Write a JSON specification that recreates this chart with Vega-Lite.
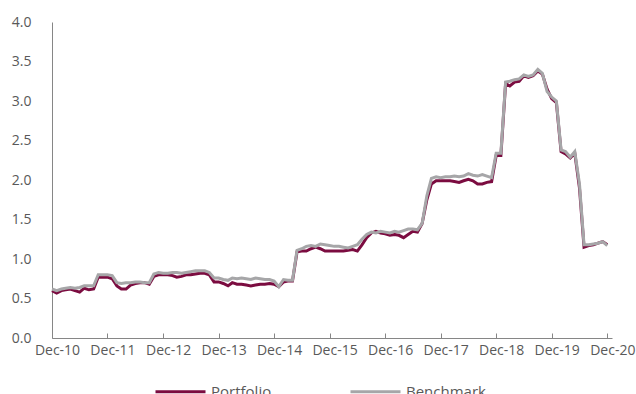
{
  "$schema": "https://vega.github.io/schema/vega-lite/v6.json",
  "width": 560,
  "height": 316,
  "autosize": {"type": "none"},
  "padding": {"left": 52, "top": 22, "right": 24, "bottom": 56},
  "background": "white",
  "config": {
    "view": {"stroke": null},
    "font": "Open Sans"
  },
  "data": {
    "values": [
      {"date": "2010-12-01", "Portfolio": 0.60, "Benchmark": 0.62},
      {"date": "2011-01-01", "Portfolio": 0.57, "Benchmark": 0.60},
      {"date": "2011-02-01", "Portfolio": 0.60, "Benchmark": 0.62},
      {"date": "2011-03-01", "Portfolio": 0.61, "Benchmark": 0.63},
      {"date": "2011-04-01", "Portfolio": 0.62, "Benchmark": 0.64},
      {"date": "2011-05-01", "Portfolio": 0.60, "Benchmark": 0.63},
      {"date": "2011-06-01", "Portfolio": 0.58, "Benchmark": 0.64},
      {"date": "2011-07-01", "Portfolio": 0.63, "Benchmark": 0.66},
      {"date": "2011-08-01", "Portfolio": 0.61, "Benchmark": 0.66},
      {"date": "2011-09-01", "Portfolio": 0.62, "Benchmark": 0.66},
      {"date": "2011-10-01", "Portfolio": 0.77, "Benchmark": 0.80},
      {"date": "2011-11-01", "Portfolio": 0.77, "Benchmark": 0.80},
      {"date": "2011-12-01", "Portfolio": 0.77, "Benchmark": 0.80},
      {"date": "2012-01-01", "Portfolio": 0.75, "Benchmark": 0.79},
      {"date": "2012-02-01", "Portfolio": 0.66, "Benchmark": 0.70},
      {"date": "2012-03-01", "Portfolio": 0.62, "Benchmark": 0.69},
      {"date": "2012-04-01", "Portfolio": 0.62, "Benchmark": 0.70},
      {"date": "2012-05-01", "Portfolio": 0.67, "Benchmark": 0.70},
      {"date": "2012-06-01", "Portfolio": 0.69, "Benchmark": 0.71},
      {"date": "2012-07-01", "Portfolio": 0.70, "Benchmark": 0.71},
      {"date": "2012-08-01", "Portfolio": 0.70, "Benchmark": 0.70},
      {"date": "2012-09-01", "Portfolio": 0.68, "Benchmark": 0.70},
      {"date": "2012-10-01", "Portfolio": 0.78, "Benchmark": 0.81},
      {"date": "2012-11-01", "Portfolio": 0.80, "Benchmark": 0.83},
      {"date": "2012-12-01", "Portfolio": 0.80, "Benchmark": 0.82},
      {"date": "2013-01-01", "Portfolio": 0.80, "Benchmark": 0.82},
      {"date": "2013-02-01", "Portfolio": 0.79, "Benchmark": 0.83},
      {"date": "2013-03-01", "Portfolio": 0.77, "Benchmark": 0.83},
      {"date": "2013-04-01", "Portfolio": 0.78, "Benchmark": 0.82},
      {"date": "2013-05-01", "Portfolio": 0.80, "Benchmark": 0.83},
      {"date": "2013-06-01", "Portfolio": 0.80, "Benchmark": 0.84},
      {"date": "2013-07-01", "Portfolio": 0.81, "Benchmark": 0.85},
      {"date": "2013-08-01", "Portfolio": 0.82, "Benchmark": 0.85},
      {"date": "2013-09-01", "Portfolio": 0.82, "Benchmark": 0.85},
      {"date": "2013-10-01", "Portfolio": 0.80, "Benchmark": 0.83},
      {"date": "2013-11-01", "Portfolio": 0.71, "Benchmark": 0.76},
      {"date": "2013-12-01", "Portfolio": 0.71, "Benchmark": 0.76},
      {"date": "2014-01-01", "Portfolio": 0.69, "Benchmark": 0.74},
      {"date": "2014-02-01", "Portfolio": 0.66, "Benchmark": 0.73},
      {"date": "2014-03-01", "Portfolio": 0.70, "Benchmark": 0.76},
      {"date": "2014-04-01", "Portfolio": 0.68, "Benchmark": 0.75},
      {"date": "2014-05-01", "Portfolio": 0.68, "Benchmark": 0.76},
      {"date": "2014-06-01", "Portfolio": 0.67, "Benchmark": 0.75},
      {"date": "2014-07-01", "Portfolio": 0.66, "Benchmark": 0.74},
      {"date": "2014-08-01", "Portfolio": 0.67, "Benchmark": 0.76},
      {"date": "2014-09-01", "Portfolio": 0.68, "Benchmark": 0.75},
      {"date": "2014-10-01", "Portfolio": 0.68, "Benchmark": 0.74},
      {"date": "2014-11-01", "Portfolio": 0.69, "Benchmark": 0.74},
      {"date": "2014-12-01", "Portfolio": 0.68, "Benchmark": 0.72},
      {"date": "2015-01-01", "Portfolio": 0.65, "Benchmark": 0.65},
      {"date": "2015-02-01", "Portfolio": 0.71, "Benchmark": 0.74},
      {"date": "2015-03-01", "Portfolio": 0.72, "Benchmark": 0.73},
      {"date": "2015-04-01", "Portfolio": 0.72, "Benchmark": 0.73},
      {"date": "2015-05-01", "Portfolio": 1.09, "Benchmark": 1.11},
      {"date": "2015-06-01", "Portfolio": 1.10, "Benchmark": 1.13},
      {"date": "2015-07-01", "Portfolio": 1.10, "Benchmark": 1.16},
      {"date": "2015-08-01", "Portfolio": 1.13, "Benchmark": 1.17},
      {"date": "2015-09-01", "Portfolio": 1.15, "Benchmark": 1.16},
      {"date": "2015-10-01", "Portfolio": 1.13, "Benchmark": 1.19},
      {"date": "2015-11-01", "Portfolio": 1.10, "Benchmark": 1.18},
      {"date": "2015-12-01", "Portfolio": 1.10, "Benchmark": 1.17},
      {"date": "2016-01-01", "Portfolio": 1.10, "Benchmark": 1.16},
      {"date": "2016-02-01", "Portfolio": 1.10, "Benchmark": 1.16},
      {"date": "2016-03-01", "Portfolio": 1.10, "Benchmark": 1.15},
      {"date": "2016-04-01", "Portfolio": 1.11, "Benchmark": 1.14},
      {"date": "2016-05-01", "Portfolio": 1.12, "Benchmark": 1.16},
      {"date": "2016-06-01", "Portfolio": 1.10, "Benchmark": 1.18},
      {"date": "2016-07-01", "Portfolio": 1.18, "Benchmark": 1.25},
      {"date": "2016-08-01", "Portfolio": 1.27, "Benchmark": 1.31},
      {"date": "2016-09-01", "Portfolio": 1.33, "Benchmark": 1.34},
      {"date": "2016-10-01", "Portfolio": 1.35, "Benchmark": 1.33},
      {"date": "2016-11-01", "Portfolio": 1.33, "Benchmark": 1.35},
      {"date": "2016-12-01", "Portfolio": 1.32, "Benchmark": 1.34},
      {"date": "2017-01-01", "Portfolio": 1.30, "Benchmark": 1.33},
      {"date": "2017-02-01", "Portfolio": 1.31, "Benchmark": 1.35},
      {"date": "2017-03-01", "Portfolio": 1.30, "Benchmark": 1.34},
      {"date": "2017-04-01", "Portfolio": 1.27, "Benchmark": 1.36},
      {"date": "2017-05-01", "Portfolio": 1.31, "Benchmark": 1.38},
      {"date": "2017-06-01", "Portfolio": 1.35, "Benchmark": 1.38},
      {"date": "2017-07-01", "Portfolio": 1.34, "Benchmark": 1.37},
      {"date": "2017-08-01", "Portfolio": 1.45, "Benchmark": 1.45},
      {"date": "2017-09-01", "Portfolio": 1.75, "Benchmark": 1.80},
      {"date": "2017-10-01", "Portfolio": 1.95, "Benchmark": 2.02},
      {"date": "2017-11-01", "Portfolio": 1.99, "Benchmark": 2.04},
      {"date": "2017-12-01", "Portfolio": 1.99, "Benchmark": 2.03},
      {"date": "2018-01-01", "Portfolio": 1.99, "Benchmark": 2.04},
      {"date": "2018-02-01", "Portfolio": 1.99, "Benchmark": 2.04},
      {"date": "2018-03-01", "Portfolio": 1.98, "Benchmark": 2.05},
      {"date": "2018-04-01", "Portfolio": 1.97, "Benchmark": 2.04},
      {"date": "2018-05-01", "Portfolio": 1.99, "Benchmark": 2.05},
      {"date": "2018-06-01", "Portfolio": 2.01, "Benchmark": 2.08},
      {"date": "2018-07-01", "Portfolio": 1.99, "Benchmark": 2.06},
      {"date": "2018-08-01", "Portfolio": 1.95, "Benchmark": 2.05},
      {"date": "2018-09-01", "Portfolio": 1.95, "Benchmark": 2.07},
      {"date": "2018-10-01", "Portfolio": 1.97, "Benchmark": 2.05},
      {"date": "2018-11-01", "Portfolio": 1.98, "Benchmark": 2.03},
      {"date": "2018-12-01", "Portfolio": 2.31, "Benchmark": 2.34},
      {"date": "2019-01-01", "Portfolio": 2.31, "Benchmark": 2.34},
      {"date": "2019-02-01", "Portfolio": 3.22, "Benchmark": 3.24},
      {"date": "2019-03-01", "Portfolio": 3.19, "Benchmark": 3.25},
      {"date": "2019-04-01", "Portfolio": 3.24, "Benchmark": 3.27},
      {"date": "2019-05-01", "Portfolio": 3.25, "Benchmark": 3.28},
      {"date": "2019-06-01", "Portfolio": 3.32, "Benchmark": 3.33},
      {"date": "2019-07-01", "Portfolio": 3.30, "Benchmark": 3.31},
      {"date": "2019-08-01", "Portfolio": 3.32, "Benchmark": 3.33},
      {"date": "2019-09-01", "Portfolio": 3.38, "Benchmark": 3.40},
      {"date": "2019-10-01", "Portfolio": 3.34, "Benchmark": 3.35},
      {"date": "2019-11-01", "Portfolio": 3.15, "Benchmark": 3.12},
      {"date": "2019-12-01", "Portfolio": 3.03, "Benchmark": 3.05},
      {"date": "2020-01-01", "Portfolio": 2.98, "Benchmark": 3.00},
      {"date": "2020-02-01", "Portfolio": 2.36, "Benchmark": 2.38},
      {"date": "2020-03-01", "Portfolio": 2.33, "Benchmark": 2.36},
      {"date": "2020-04-01", "Portfolio": 2.28, "Benchmark": 2.29},
      {"date": "2020-05-01", "Portfolio": 2.34, "Benchmark": 2.36},
      {"date": "2020-06-01", "Portfolio": 1.90, "Benchmark": 1.95},
      {"date": "2020-07-01", "Portfolio": 1.15, "Benchmark": 1.18},
      {"date": "2020-08-01", "Portfolio": 1.17, "Benchmark": 1.18},
      {"date": "2020-09-01", "Portfolio": 1.18, "Benchmark": 1.19},
      {"date": "2020-10-01", "Portfolio": 1.20, "Benchmark": 1.20},
      {"date": "2020-11-01", "Portfolio": 1.22, "Benchmark": 1.22},
      {"date": "2020-12-01", "Portfolio": 1.18, "Benchmark": 1.17}
    ]
  },
  "transform": [
    {"fold": ["Portfolio", "Benchmark"], "as": ["series", "value"]}
  ],
  "mark": {"type": "line", "strokeWidth": 3, "interpolate": "linear"},
  "encoding": {
    "x": {
      "field": "date",
      "type": "temporal",
      "scale": {"type": "utc", "domain": ["2010-12-01", "2021-01-01"]},
      "axis": {
        "title": null,
        "values": ["2010-12-01", "2011-12-01", "2012-12-01", "2013-12-01", "2014-12-01", "2015-12-01", "2016-12-01", "2017-12-01", "2018-12-01", "2019-12-01", "2020-12-01"],
        "format": "%b-%y",
        "grid": false,
        "domainColor": "#868686",
        "domainWidth": 1,
        "tickColor": "#868686",
        "tickSize": -5,
        "labelPadding": 10,
        "labelOffset": 5,
        "labelColor": "#595959",
        "labelFontSize": 14,
        "labelFont": "Open Sans",
        "labelFlush": false,
        "labelOverlap": false
      }
    },
    "y": {
      "field": "value",
      "type": "quantitative",
      "scale": {"domain": [0, 4]},
      "axis": {
        "title": null,
        "values": [0, 0.5, 1, 1.5, 2, 2.5, 3, 3.5, 4],
        "format": ".1f",
        "grid": false,
        "ticks": false,
        "domainColor": "#868686",
        "domainWidth": 1,
        "labelPadding": 21,
        "labelColor": "#595959",
        "labelFontSize": 14,
        "labelFont": "Open Sans"
      }
    },
    "color": {
      "field": "series",
      "type": "nominal",
      "scale": {"domain": ["Portfolio", "Benchmark"], "range": ["#7B0C40", "#A6A6A8"]},
      "legend": {
        "title": null,
        "orient": "none",
        "direction": "horizontal",
        "legendX": 102,
        "legendY": 343,
        "padding": 0,
        "symbolType": "stroke",
        "symbolSize": 2500,
        "symbolStrokeWidth": 3,
        "labelOffset": 4,
        "labelFontSize": 15,
        "labelFont": "Open Sans",
        "labelColor": "#595959",
        "columnPadding": 72
      }
    }
  }
}
